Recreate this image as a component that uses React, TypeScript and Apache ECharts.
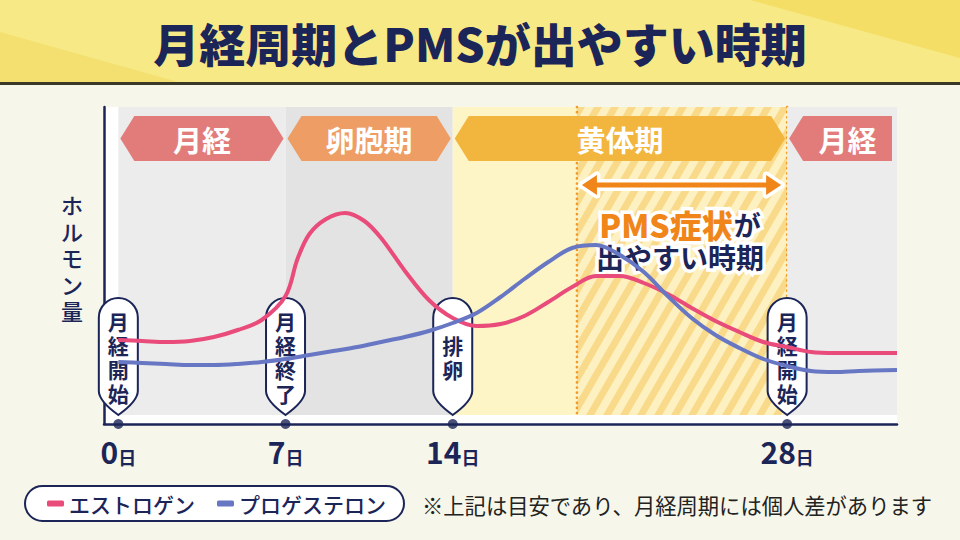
import { useEffect, useRef } from 'react'
import * as echarts from 'echarts'

const NAVY = '#1c2558'
const PINK = '#e94b7b'
const BLUE = '#6777c4'
const ORANGE = '#f08519'
const FONT = '"Noto Sans CJK JP", "Noto Sans", sans-serif'

const phaseNames = ['月経', '卵胞期', '黄体期', '月経']
const phaseStart = [0, 7, 14, 28]
const phaseEnd = [7, 14, 28, 32.6]

const bandStart = [0, 7, 14, 19.2, 28]
const bandEnd = [7, 14, 19.2, 28, 32.6]
const bandKind = ['menses', 'follicular', 'luteal', 'pms', 'menses']

const pmsRange = [19.2, 28]

const markerDays = [0, 7, 14, 28]
const markerLabels = ['月経開始', '月経終了', '排卵', '月経開始']
const tickDays = [0, 7, 14, 28]

const estrogenDays = [0, 1, 2, 3, 4, 5, 6, 7, 7.5, 8, 8.7, 9.5, 10.3, 11, 12, 13, 14, 15, 16, 17, 18, 19, 20, 21, 22, 23, 24, 25, 26, 27, 28, 29, 30, 32.6]
const estrogenLevels = [84, 83, 82, 83, 87, 94, 104, 128, 165, 190, 205, 211, 203, 186, 153, 124, 106, 98, 100, 108, 122, 137, 148, 148, 141, 130, 116, 103, 92, 82, 77, 72, 71, 71]

const progesteroneDays = [0, 1, 2, 3, 4, 5, 6, 7, 8, 9, 10, 11, 12, 13, 14, 15, 16, 17, 18, 19, 20, 21, 22, 23, 24, 25, 26, 27, 28, 29, 30, 31, 32.6]
const progesteroneLevels = [62, 61, 60, 59, 59, 60, 62, 65, 69, 73, 77, 82, 87, 93, 101, 111, 127, 145, 162, 176, 179, 169, 152, 128, 106, 89, 76, 65, 58, 53, 52, 53, 54]

const BAND_FILL: Record<string, string> = {
  menses: '#ececec',
  follicular: '#e3e3e3',
  luteal: '#fdf5c6',
}
const PHASE_FILL = ['#e27c7b', '#ee9d64', '#f2b53d', '#e27c7b']

// keep the part of a polygon that lies on one side of a vertical line
function clipEdge(poly: number[][], x: number, keepLeft: boolean) {
  const out: number[][] = []
  for (let i = 0; i < poly.length; i++) {
    const a = poly[i]
    const b = poly[(i + 1) % poly.length]
    const ina = keepLeft ? a[0] <= x : a[0] >= x
    const inb = keepLeft ? b[0] <= x : b[0] >= x
    if (ina) out.push(a)
    if (ina !== inb) {
      const t = (x - a[0]) / (b[0] - a[0])
      out.push([x, a[1] + t * (b[1] - a[1])])
    }
  }
  return out
}

function hatch(x0: number, x1: number, top: number, bottom: number) {
  const period = 17
  const w = 8
  const shift = (bottom - top) / Math.tan((60 * Math.PI) / 180)
  const items: any[] = []
  for (let bx = x0 - shift - period; bx < x1; bx += period) {
    let poly = [
      [bx, bottom],
      [bx + w, bottom],
      [bx + w + shift, top],
      [bx + shift, top],
    ]
    poly = clipEdge(clipEdge(poly, x0, false), x1, true)
    if (poly.length > 2) {
      items.push({ type: 'polygon', shape: { points: poly }, style: { fill: '#f9da8a' } })
    }
  }
  return items
}

function ChartCard() {
  const chartRef = useRef<HTMLDivElement>(null)

  useEffect(() => {
    if (!chartRef.current) return
    const chart = echarts.init(chartRef.current, undefined, { renderer: 'svg' })

    chart.setOption({
      animation: false,
      backgroundColor: '#f6f6ea',
      textStyle: { fontFamily: FONT },
      grid: {
        left: 104, right: 63, top: 107, bottom: 116,
        show: true, backgroundColor: '#fff', borderWidth: 0,
      },
      xAxis: {
        type: 'value',
        min: -0.6,
        max: 32.6,
        splitLine: { show: false },
        axisTick: { show: false },
        axisLine: { onZero: false, lineStyle: { color: NAVY, width: 2.5 } },
        axisLabel: {
          customValues: tickDays,
          margin: 12,
          formatter: (v: number) => `{n|${v}}{d|日}`,
          rich: {
            n: { fontSize: 30, lineHeight: 30, fontWeight: 700, color: NAVY, fontFamily: FONT },
            d: { fontSize: 18, lineHeight: 22, fontWeight: 700, color: NAVY, fontFamily: FONT, verticalAlign: 'bottom' },
          },
        },
      },
      yAxis: {
        type: 'value',
        min: 0,
        max: 317,
        splitLine: { show: false },
        axisTick: { show: false },
        axisLabel: { show: false },
        axisLine: { show: true, onZero: false, lineStyle: { color: NAVY, width: 2.5 } },
      },
      legend: {
        left: 25,
        top: 486,
        data: ['エストロゲン', 'プロゲステロン'],
        icon: 'roundRect',
        itemWidth: 17,
        itemHeight: 6,
        itemGap: 22,
        padding: [7, 18, 7, 22],
        selectedMode: false,
        backgroundColor: '#fff',
        borderColor: NAVY,
        borderWidth: 2,
        borderRadius: 19,
        textStyle: { fontSize: 21, fontWeight: 500, color: NAVY, fontFamily: FONT },
      },
      graphic: [
        { type: 'rect', shape: { x: 0, y: 0, width: 960, height: 82 }, style: { fill: '#f7e985' } },
        { type: 'polygon', shape: { points: [[0, 32], [178, 82], [0, 82]] }, style: { fill: '#f3e070' } },
        { type: 'polygon', shape: { points: [[750, 0], [960, 0], [960, 58]] }, style: { fill: '#f4de66' } },
        { type: 'rect', shape: { x: 0, y: 82, width: 960, height: 3 }, style: { fill: '#3a3826' } },
        {
          type: 'text', x: 480, y: 42,
          style: {
            text: '月経周期とPMSが出やすい時期', fontSize: 46, fontWeight: 900,
            fill: NAVY, fontFamily: FONT, align: 'center', verticalAlign: 'middle',
          },
        },
        {
          type: 'text', x: 72, y: 257,
          style: {
            text: 'ホルモン量'.split('').join('\n'), fontSize: 22, lineHeight: 26.5, fontWeight: 500,
            fill: NAVY, fontFamily: FONT, align: 'center', verticalAlign: 'middle',
          },
        },
        {
          type: 'text', x: 422, y: 504,
          style: {
            text: '※上記は目安であり、月経周期には個人差があります', fontSize: 21.3, fontWeight: 400,
            fill: '#222', fontFamily: FONT, align: 'left', verticalAlign: 'middle',
          },
        },
      ],
      series: [
        {
          name: 'bands',
          type: 'custom',
          silent: true,
          data: bandStart.map((s, i) => [s, bandEnd[i]]),
          encode: { x: [0, 1] },
          renderItem: (params: any, api: any) => {
            const cs = params.coordSys
            const x0 = api.coord([api.value(0), 0])[0]
            const x1 = api.coord([api.value(1), 0])[0]
            const top = cs.y
            const bottom = cs.y + cs.height - 9
            const kind = bandKind[params.dataIndex]
            if (kind !== 'pms') {
              return {
                type: 'rect',
                shape: { x: x0, y: top, width: x1 - x0, height: bottom - top },
                style: { fill: BAND_FILL[kind] },
              }
            }
            const dots = { stroke: '#f09a2a', lineWidth: 2.6, lineDash: [0.1, 5], lineCap: 'round' }
            return {
              type: 'group',
              children: [
                { type: 'rect', shape: { x: x0, y: top, width: x1 - x0, height: bottom - top }, style: { fill: '#fdf1c2' } },
                ...hatch(x0, x1, top, bottom),
                { type: 'line', shape: { x1: x0, y1: top, x2: x0, y2: bottom }, style: dots },
                { type: 'line', shape: { x1: x1, y1: top, x2: x1, y2: bottom }, style: dots },
              ],
            }
          },
        },
        {
          name: 'phases',
          type: 'custom',
          silent: true,
          data: phaseStart.map((s, i) => [s, phaseEnd[i]]),
          encode: { x: [0, 1] },
          renderItem: (params: any, api: any) => {
            const cs = params.coordSys
            const i = params.dataIndex
            const last = i === phaseNames.length - 1
            const xl = api.coord([api.value(0), 0])[0] + 2
            const xr = api.coord([api.value(1), 0])[0] - (last ? 5 : 2)
            const yt = cs.y + 9
            const yb = yt + 45
            const ym = (yt + yb) / 2
            const d = 14
            const points = last
              ? [[xl, ym], [xl + d, yt], [xr, yt], [xr, yb], [xl + d, yb]]
              : [[xl, ym], [xl + d, yt], [xr - d, yt], [xr, ym], [xr - d, yb], [xl + d, yb]]
            const cx = last ? (xl + d + xr) / 2 : (xl + xr) / 2
            return {
              type: 'group',
              children: [
                { type: 'polygon', shape: { points }, style: { fill: PHASE_FILL[i] } },
                {
                  type: 'text',
                  style: {
                    text: phaseNames[i], x: cx, y: ym, align: 'center', verticalAlign: 'middle',
                    fontSize: 29, fontWeight: 700, fill: '#fff', fontFamily: FONT,
                  },
                },
              ],
            }
          },
        },
        {
          name: 'エストロゲン',
          type: 'line',
          color: PINK,
          smooth: 0.35,
          showSymbol: false,
          silent: true,
          lineStyle: { width: 4, color: PINK },
          data: estrogenDays.map((d, i) => [d, estrogenLevels[i]]),
        },
        {
          name: 'プロゲステロン',
          type: 'line',
          color: BLUE,
          smooth: 0.35,
          showSymbol: false,
          silent: true,
          lineStyle: { width: 4, color: BLUE },
          data: progesteroneDays.map((d, i) => [d, progesteroneLevels[i]]),
        },
        {
          name: 'pms',
          type: 'custom',
          silent: true,
          data: [pmsRange],
          encode: { x: [0, 1] },
          renderItem: (params: any, api: any) => {
            const cs = params.coordSys
            const x0 = api.coord([api.value(0), 0])[0]
            const x1 = api.coord([api.value(1), 0])[0]
            const xl = x0 + 5
            const xr = x1 - 6
            const y = cs.y + 78
            const h = 15
            const pts = [
              [xl, y], [xl + h, y - 10], [xl + h, y - 2.5], [xr - h, y - 2.5], [xr - h, y - 10],
              [xr, y], [xr - h, y + 10], [xr - h, y + 2.5], [xl + h, y + 2.5], [xl + h, y + 10],
            ]
            const cx = (x0 + x1) / 2 - 2
            return {
              type: 'group',
              children: [
                { type: 'polygon', shape: { points: pts }, style: { fill: '#fff', stroke: '#fff', lineWidth: 7, lineJoin: 'round' } },
                { type: 'polygon', shape: { points: pts }, style: { fill: ORANGE } },
                {
                  type: 'text',
                  style: {
                    text: '{o|PMS症状}{n|が}', x: cx, y: cs.y + 117, align: 'center', verticalAlign: 'middle',
                    stroke: '#fff', lineWidth: 7,
                    rich: {
                      o: { fontSize: 32, fontWeight: 900, fill: ORANGE, fontFamily: FONT, stroke: '#fff', lineWidth: 7 },
                      n: { fontSize: 27, fontWeight: 700, fill: NAVY, fontFamily: FONT, stroke: '#fff', lineWidth: 7 },
                    },
                  },
                },
                {
                  type: 'text',
                  style: {
                    text: '出やすい時期', x: cx, y: cs.y + 150, align: 'center', verticalAlign: 'middle',
                    fontSize: 28, fontWeight: 700, fill: NAVY, fontFamily: FONT, stroke: '#fff', lineWidth: 7,
                  },
                },
              ],
            }
          },
        },
        {
          name: 'markers',
          type: 'custom',
          silent: true,
          data: markerDays.map((d) => [d, 0]),
          renderItem: (params: any, api: any) => {
            const cs = params.coordSys
            const cx = api.coord([api.value(0), 0])[0]
            const base = cs.y + cs.height
            const tip = base - 9
            const top = base - 126
            const r = 19.5
            const path =
              `M${cx - r},${top + r} A${r},${r} 0 0 1 ${cx + r},${top + r} ` +
              `L${cx + r},${tip - 24} Q${cx + r},${tip - 14} ${cx},${tip} ` +
              `Q${cx - r},${tip - 14} ${cx - r},${tip - 24} Z`
            const label = markerLabels[params.dataIndex]
            return {
              type: 'group',
              children: [
                { type: 'path', shape: { pathData: path }, style: { fill: '#fff', stroke: NAVY, lineWidth: 2 } },
                {
                  type: 'text',
                  style: {
                    text: label.split('').join('\n'), x: cx, y: base - 67, align: 'center', verticalAlign: 'middle',
                    fontSize: 21, lineHeight: 24, fontWeight: 700, fill: NAVY, fontFamily: FONT,
                  },
                },
              ],
            }
          },
        },
        {
          name: 'ticks',
          type: 'scatter',
          silent: true,
          clip: false,
          symbolSize: 10,
          itemStyle: { color: NAVY },
          data: tickDays.map((d) => [d, 0]),
        },
      ],
    })

    return () => {
      chart.dispose()
    }
  }, [])

  return (
    <div
      ref={chartRef}
      style={{ position: 'absolute', left: 0, top: 0, width: 960, height: 540 }}
    />
  )
}

export default function App() {
  return <ChartCard />
}
